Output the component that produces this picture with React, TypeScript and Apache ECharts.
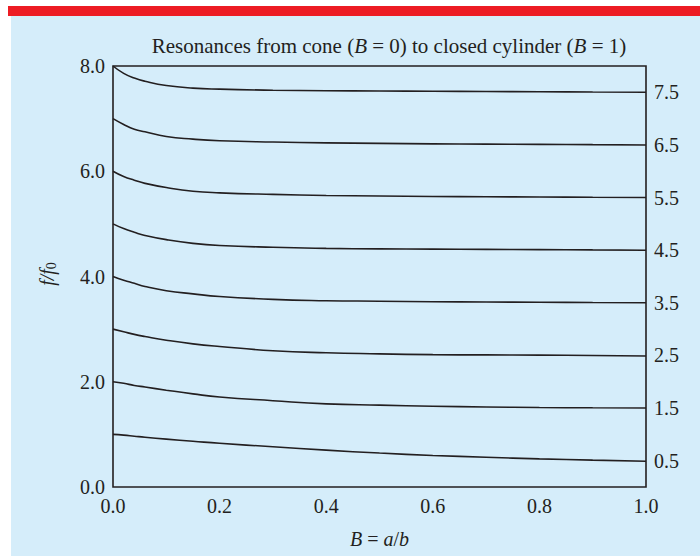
import React, { useEffect, useRef } from "react";
import * as echarts from "echarts";

const bValues = [0, 0.02, 0.04, 0.06, 0.1, 0.15, 0.2, 0.3, 0.4, 0.5, 0.6, 0.7, 0.8, 0.9, 1.0];

const curve8 = [8.0, 7.86, 7.77, 7.71, 7.63, 7.58, 7.56, 7.54, 7.53, 7.525, 7.52, 7.515, 7.51, 7.505, 7.5];
const curve7 = [7.0, 6.89, 6.8, 6.75, 6.66, 6.61, 6.58, 6.555, 6.54, 6.53, 6.52, 6.515, 6.51, 6.505, 6.5];
const curve6 = [6.0, 5.9, 5.83, 5.77, 5.69, 5.62, 5.59, 5.56, 5.54, 5.53, 5.52, 5.515, 5.51, 5.505, 5.5];
const curve5 = [5.0, 4.91, 4.84, 4.78, 4.7, 4.63, 4.59, 4.555, 4.535, 4.525, 4.52, 4.515, 4.51, 4.505, 4.5];
const curve4 = [4.0, 3.93, 3.87, 3.81, 3.73, 3.67, 3.62, 3.565, 3.54, 3.53, 3.52, 3.515, 3.51, 3.505, 3.5];
const curve3 = [3.0, 2.95, 2.9, 2.86, 2.79, 2.72, 2.67, 2.59, 2.55, 2.53, 2.515, 2.51, 2.505, 2.5, 2.49];
const curve2 = [2.0, 1.97, 1.93, 1.9, 1.84, 1.77, 1.71, 1.64, 1.58, 1.555, 1.535, 1.52, 1.51, 1.505, 1.5];
const curve1 = [1.0, 0.985, 0.965, 0.945, 0.91, 0.87, 0.83, 0.765, 0.7, 0.645, 0.6, 0.565, 0.535, 0.51, 0.49];

const curves = [curve1, curve2, curve3, curve4, curve5, curve6, curve7, curve8];

const xTicks = [0, 0.2, 0.4, 0.6, 0.8, 1.0];
const leftTicks = [0, 2, 4, 6, 8];
const rightTicks = [0.5, 1.5, 2.5, 3.5, 4.5, 5.5, 6.5, 7.5];

const FONT = "Liberation Serif";
const INK = "#231f20";

export default function App() {
  const ref = useRef<HTMLDivElement>(null);

  useEffect(() => {
    if (!ref.current) return;
    const chart = echarts.init(ref.current, undefined, { renderer: "svg" });
    const option: any = {
      animation: false,
      backgroundColor: "#ffffff",
      textStyle: { fontFamily: FONT, color: INK },
      graphic: [
        { type: "rect", z: -10, silent: true, shape: { x: 8, y: 6, width: 692, height: 10 }, style: { fill: "#ed1c24" } },
        { type: "rect", z: -10, silent: true, shape: { x: 11, y: 16, width: 689, height: 540 }, style: { fill: "#d5edfa" } },
        {
          type: "text",
          x: 47,
          y: 274,
          rotation: Math.PI / 2,
          style: {
            text: "{i|f/f}{s|0}",
            fill: INK,
            align: "center",
            verticalAlign: "middle",
            rich: {
              i: { fontFamily: FONT, fontStyle: "italic", fontSize: 20, fill: INK },
              s: { fontFamily: FONT, fontSize: 14, fill: INK, padding: [8, 0, 0, 0] },
            },
          },
        },
      ],
      title: {
        text: "{n|Resonances from cone (}{i|B}{n| = 0) to closed cylinder (}{i|B}{n| = 1)}",
        left: 384,
        top: 30,
        textAlign: "center",
        textStyle: {
          fontWeight: "normal",
          rich: {
            n: { fontFamily: FONT, fontSize: 21, fontWeight: "normal", color: INK },
            i: { fontFamily: FONT, fontSize: 21, fontWeight: "normal", fontStyle: "italic", color: INK },
          },
        },
      },
      grid: {
        left: 113,
        right: 54,
        top: 66,
        bottom: 69,
        show: true,
        borderColor: INK,
        borderWidth: 1.6,
        backgroundColor: "transparent",
      },
      xAxis: {
        type: "value",
        min: 0,
        max: 1,
        interval: 0.2,
        axisLine: { show: false },
        axisTick: { show: false },
        splitLine: { show: false },
        axisLabel: {
          fontFamily: FONT,
          fontSize: 20,
          color: INK,
          margin: 9,
          formatter: (v: number) => (xTicks.some((t) => Math.abs(t - v) < 1e-6) ? v.toFixed(1) : ""),
        },
        name: "{i|B} = {i|a}/{i|b}",
        nameLocation: "middle",
        nameGap: 42,
        nameTextStyle: {
          fontFamily: FONT,
          fontSize: 20,
          color: INK,
          rich: {
            i: { fontFamily: FONT, fontSize: 20, fontStyle: "italic", color: INK },
          },
        },
      },
      yAxis: [
        {
          type: "value",
          min: 0,
          max: 8,
          interval: 2,
          axisLine: { show: false },
          axisTick: { show: false },
          splitLine: { show: false },
          axisLabel: {
            fontFamily: FONT,
            fontSize: 20,
            color: INK,
            margin: 8,
            formatter: (v: number) => (leftTicks.some((t) => Math.abs(t - v) < 1e-6) ? v.toFixed(1) : ""),
          },
        },
        {
          type: "value",
          position: "right",
          min: 0,
          max: 8,
          interval: 0.5,
          axisLine: { show: false },
          axisTick: { show: false },
          splitLine: { show: false },
          axisLabel: {
            fontFamily: FONT,
            fontSize: 20,
            color: INK,
            margin: 8,
            formatter: (v: number) => (rightTicks.some((t) => Math.abs(t - v) < 1e-6) ? v.toFixed(1) : ""),
          },
        },
      ],
      series: curves.map((c, i) => ({
        type: "line",
        name: "n" + (i + 1),
        data: c.map((v, j) => [bValues[j], v]),
        smooth: true,
        symbol: "none",
        lineStyle: { color: INK, width: 1.6 },
        silent: true,
      })),
    };
    chart.setOption(option);
    return () => chart.dispose();
  }, []);

  return (
    <div
      ref={ref}
      style={{ position: "fixed", left: 0, top: 0, width: 700, height: 556 }}
    />
  );
}
